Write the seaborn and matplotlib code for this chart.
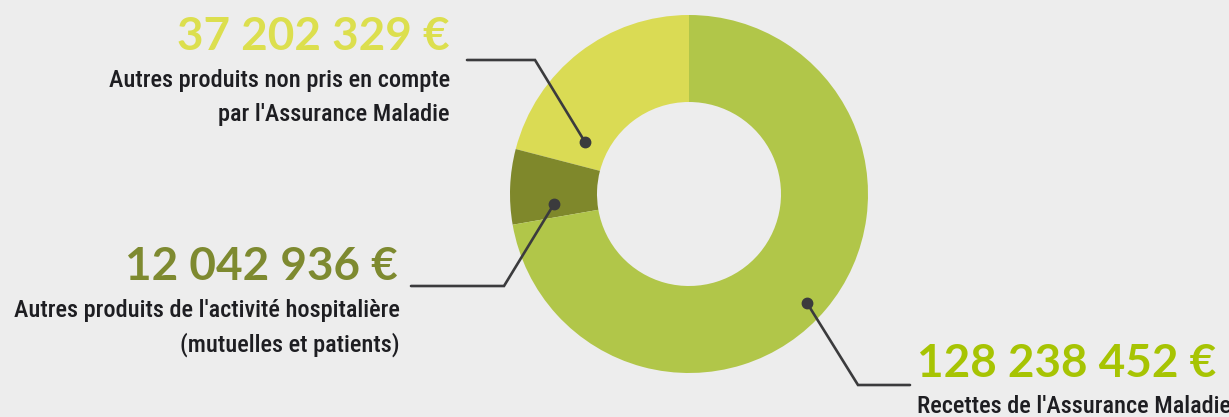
import matplotlib
matplotlib.use("Agg")
import matplotlib.pyplot as plt
import seaborn as sns

# ---- data ----
categories = [
    "Autres produits non pris en compte par l'Assurance Maladie",
    "Autres produits de l'activité hospitalière (mutuelles et patients)",
    "Recettes de l'Assurance Maladie",
]
values = [37202329, 12042936, 128238452]
value_labels = ["37 202 329 €", "12 042 936 €", "128 238 452 €"]
label_lines = [
    ["Autres produits non pris en compte", "par l'Assurance Maladie"],
    ["Autres produits de l'activité hospitalière", "(mutuelles et patients)"],
    ["Recettes de l'Assurance Maladie"],
]
wedge_colors = ["#dadb54", "#7f882b", "#b1c649"]
number_colors = ["#dcdf4e", "#7e8a30", "#a7c403"]

sns.set_theme(style="white")
plt.rcParams["font.family"] = ["Lato", "DejaVu Sans"]

W, H = 1229, 417
fig = plt.figure(figsize=(W / 100, H / 100), dpi=100)
fig.patch.set_facecolor("#ededed")
ax = fig.add_axes([0, 0, 1, 1])
ax.set_facecolor("#ededed")
ax.set_xlim(0, W)
ax.set_ylim(0, H)
ax.set_aspect("equal")
ax.axis("off")

def Y(y):
    return H - y

R_OUT, R_IN = 179, 92
wedges, _ = ax.pie(values, colors=wedge_colors, startangle=90, counterclock=True,
                   radius=R_OUT, center=(689, Y(194)),
                   wedgeprops=dict(width=R_OUT - R_IN, linewidth=0))
ax.set_xlim(0, W)
ax.set_ylim(0, H)

# leader lines (layout)
leaders = [
    [(585, 142), (535, 60), (467, 60)],
    [(554, 204), (504, 286), (411, 286)],
    [(807, 303), (858, 385), (910, 385)],
]
line_col = "#3b3b3d"
for pts in leaders:
    xs = [p[0] for p in pts]
    ys = [Y(p[1]) for p in pts]
    ax.plot(xs, ys, color=line_col, lw=1.9, solid_joinstyle="miter", zorder=5)
    ax.plot(xs[0], ys[0], "o", color=line_col, ms=7.5, zorder=6)

# text layout
num_pos = [(450, 50, "right"), (398, 280, "right"), (917, 377, "left")]
lab_pos = [(450, [87, 121], "right"), (400, [317, 352], "right"), (917, [413], "left")]
lab_target_w = [[339, 227], [387, 228], [308]]
label_family = ["Roboto Condensed", "Roboto", "DejaVu Sans"]
base_size = 18.5
texts = []
for i in range(3):
    x, yb, ha = num_pos[i]
    ax.text(x, Y(yb), value_labels[i], ha=ha, va="baseline", fontsize=33,
            fontweight="bold", color=number_colors[i], family=["Lato", "DejaVu Sans"])
    lx, ybs, lha = lab_pos[i]
    for j, (line, yy) in enumerate(zip(label_lines[i], ybs)):
        t = ax.text(lx, Y(yy), line, ha=lha, va="baseline", fontsize=base_size,
                    color="#1e1e22", family=label_family, fontstretch="condensed",
                    fontweight="medium")
        texts.append((t, lab_target_w[i][j]))

fig.canvas.draw()
r = fig.canvas.get_renderer()
ratios = [tw / t.get_window_extent(r).width for t, tw in texts]
scale = sum(ratios) / len(ratios)
for t, _ in texts:
    t.set_fontsize(base_size * scale)

fig.savefig("out.png", dpi=100, facecolor=fig.get_facecolor())
